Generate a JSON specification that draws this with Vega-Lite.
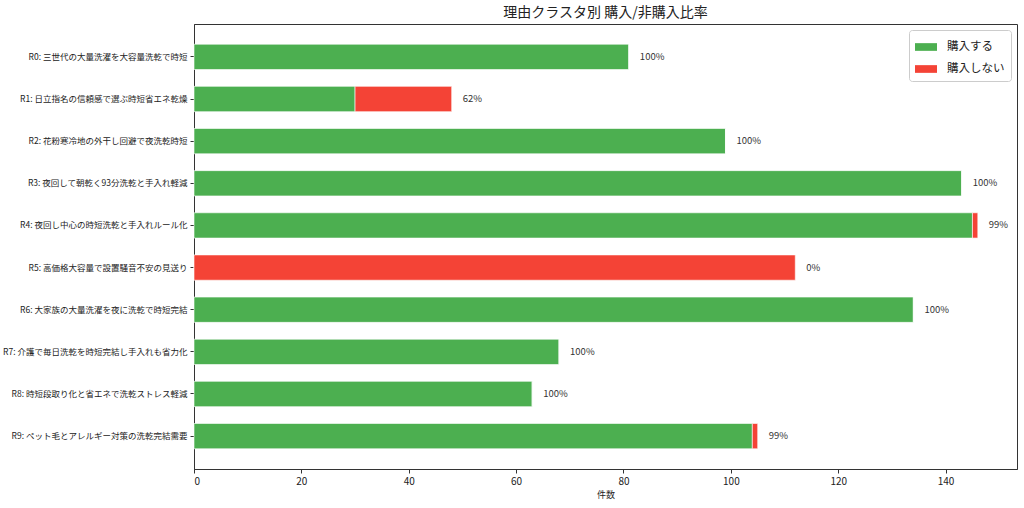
{
  "$schema": "https://vega.github.io/schema/vega-lite/v6.json",
  "width": 823,
  "height": 445,
  "autosize": "none",
  "padding": {"left": 194, "top": 24, "right": 7, "bottom": 39},
  "background": "white",
  "title": {
    "text": "理由クラスタ別 購入/非購入比率",
    "fontSize": 14,
    "fontWeight": "normal",
    "font": "Noto Sans CJK JP",
    "color": "#222",
    "offset": 4
  },
  "config": {
    "font": "Noto Sans CJK JP",
    "view": {"stroke": "#333", "strokeWidth": 1},
    "axis": {
      "grid": false,
      "domainColor": "#333",
      "tickColor": "#333",
      "labelColor": "#222",
      "titleColor": "#222",
      "tickSize": 4
    }
  },
  "datasets": {
    "segments": [
      {"cluster": "R0: 三世代の大量洗濯を大容量洗乾で時短", "status": "購入する", "ord": 0, "count": 81},
      {"cluster": "R0: 三世代の大量洗濯を大容量洗乾で時短", "status": "購入しない", "ord": 1, "count": 0},
      {"cluster": "R1: 日立指名の信頼感で選ぶ時短省エネ乾燥", "status": "購入する", "ord": 0, "count": 30},
      {"cluster": "R1: 日立指名の信頼感で選ぶ時短省エネ乾燥", "status": "購入しない", "ord": 1, "count": 18},
      {"cluster": "R2: 花粉寒冷地の外干し回避で夜洗乾時短", "status": "購入する", "ord": 0, "count": 99},
      {"cluster": "R2: 花粉寒冷地の外干し回避で夜洗乾時短", "status": "購入しない", "ord": 1, "count": 0},
      {"cluster": "R3: 夜回して朝乾く93分洗乾と手入れ軽減", "status": "購入する", "ord": 0, "count": 143},
      {"cluster": "R3: 夜回して朝乾く93分洗乾と手入れ軽減", "status": "購入しない", "ord": 1, "count": 0},
      {"cluster": "R4: 夜回し中心の時短洗乾と手入れルール化", "status": "購入する", "ord": 0, "count": 145},
      {"cluster": "R4: 夜回し中心の時短洗乾と手入れルール化", "status": "購入しない", "ord": 1, "count": 1},
      {"cluster": "R5: 高価格大容量で設置騒音不安の見送り", "status": "購入する", "ord": 0, "count": 0},
      {"cluster": "R5: 高価格大容量で設置騒音不安の見送り", "status": "購入しない", "ord": 1, "count": 112},
      {"cluster": "R6: 大家族の大量洗濯を夜に洗乾で時短完結", "status": "購入する", "ord": 0, "count": 134},
      {"cluster": "R6: 大家族の大量洗濯を夜に洗乾で時短完結", "status": "購入しない", "ord": 1, "count": 0},
      {"cluster": "R7: 介護で毎日洗乾を時短完結し手入れも省力化", "status": "購入する", "ord": 0, "count": 68},
      {"cluster": "R7: 介護で毎日洗乾を時短完結し手入れも省力化", "status": "購入しない", "ord": 1, "count": 0},
      {"cluster": "R8: 時短段取り化と省エネで洗乾ストレス軽減", "status": "購入する", "ord": 0, "count": 63},
      {"cluster": "R8: 時短段取り化と省エネで洗乾ストレス軽減", "status": "購入しない", "ord": 1, "count": 0},
      {"cluster": "R9: ペット毛とアレルギー対策の洗乾完結需要", "status": "購入する", "ord": 0, "count": 104},
      {"cluster": "R9: ペット毛とアレルギー対策の洗乾完結需要", "status": "購入しない", "ord": 1, "count": 1}
    ],
    "labels": [
      {"cluster": "R0: 三世代の大量洗濯を大容量洗乾で時短", "total": 81, "pct": "100%"},
      {"cluster": "R1: 日立指名の信頼感で選ぶ時短省エネ乾燥", "total": 48, "pct": "62%"},
      {"cluster": "R2: 花粉寒冷地の外干し回避で夜洗乾時短", "total": 99, "pct": "100%"},
      {"cluster": "R3: 夜回して朝乾く93分洗乾と手入れ軽減", "total": 143, "pct": "100%"},
      {"cluster": "R4: 夜回し中心の時短洗乾と手入れルール化", "total": 146, "pct": "99%"},
      {"cluster": "R5: 高価格大容量で設置騒音不安の見送り", "total": 112, "pct": "0%"},
      {"cluster": "R6: 大家族の大量洗濯を夜に洗乾で時短完結", "total": 134, "pct": "100%"},
      {"cluster": "R7: 介護で毎日洗乾を時短完結し手入れも省力化", "total": 68, "pct": "100%"},
      {"cluster": "R8: 時短段取り化と省エネで洗乾ストレス軽減", "total": 63, "pct": "100%"},
      {"cluster": "R9: ペット毛とアレルギー対策の洗乾完結需要", "total": 105, "pct": "99%"}
    ]
  },
  "encoding": {
    "y": {
      "field": "cluster",
      "type": "nominal",
      "sort": null,
      "title": null,
      "scale": {"paddingInner": 0.4, "paddingOuter": 0.48},
      "axis": {"labelFontSize": 8.5, "labelPadding": 3, "labelLimit": 300}
    }
  },
  "layer": [
    {
      "data": {"name": "segments"},
      "mark": {"type": "bar", "stroke": "white", "strokeWidth": 0.6},
      "encoding": {
        "x": {
          "field": "count",
          "type": "quantitative",
          "stack": "zero",
          "title": "件数",
          "scale": {"domain": [0, 153.3], "nice": false},
          "axis": {"values": [0, 20, 40, 60, 80, 100, 120, 140], "labelFontSize": 10, "titleFontSize": 9, "titleFontWeight": "normal", "titlePadding": 4, "labelPadding": 3}
        },
        "color": {
          "field": "status",
          "type": "nominal",
          "scale": {"domain": ["購入する", "購入しない"], "range": ["#4CAF50", "#F44336"]},
          "legend": {
            "title": null,
            "orient": "top-right",
            "offset": 6,
            "padding": 6,
            "fillColor": "white",
            "strokeColor": "#cccccc",
            "cornerRadius": 3,
            "labelFontSize": 11.5,
            "labelColor": "#222",
            "labelOffset": 10,
            "rowPadding": 5,
            "symbolType": "M-1,-0.35L1,-0.35L1,0.35L-1,0.35Z",
            "symbolSize": 484,
            "symbolStrokeWidth": 0
          }
        },
        "order": {"field": "ord", "type": "quantitative"}
      }
    },
    {
      "data": {"name": "labels"},
      "mark": {"type": "text", "align": "left", "baseline": "middle", "dx": 11, "fontSize": 9.5, "color": "#333"},
      "encoding": {
        "x": {"field": "total", "type": "quantitative"},
        "text": {"field": "pct"}
      }
    }
  ]
}
